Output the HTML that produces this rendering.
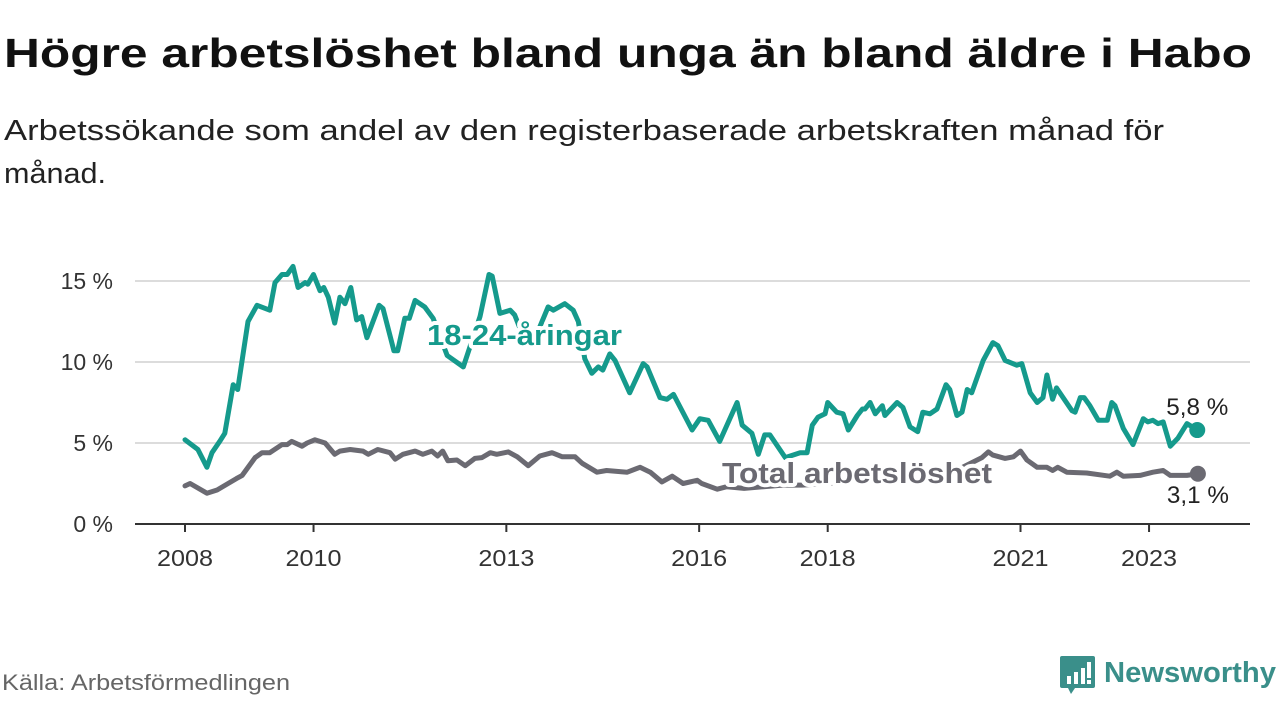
<!DOCTYPE html>
<html><head><meta charset="utf-8"><style>
html,body{margin:0;padding:0;background:#fff;width:1280px;height:720px;overflow:hidden}
svg{display:block;font-family:"Liberation Sans",sans-serif}
</style></head><body>
<svg id="chart" width="1280" height="720" viewBox="0 0 1280 720">
<text x="4" y="67" font-size="41" font-weight="bold" fill="#111" textLength="1248" lengthAdjust="spacingAndGlyphs">Högre arbetslöshet bland unga än bland äldre i Habo</text>
<text font-size="29" fill="#222"><tspan x="4" y="140" textLength="1160" lengthAdjust="spacingAndGlyphs">Arbetssökande som andel av den registerbaserade arbetskraften månad för</tspan><tspan x="4" y="183" textLength="102" lengthAdjust="spacingAndGlyphs">månad.</tspan></text>
<g id="grid"></g>
<g id="yaxis"></g>
<g id="xaxis"></g>
<g id="series"></g>
<text x="2" y="690" font-size="22" fill="#666" textLength="288" lengthAdjust="spacingAndGlyphs">Källa: Arbetsförmedlingen</text>
<g>
<path d="M1062 656 h31 a2 2 0 0 1 2 2 v28 a2 2 0 0 1 -2 2 h-18 l-4 6 l-3 -6 h-6 a2 2 0 0 1 -2 -2 v-28 a2 2 0 0 1 2 -2z" fill="#3a8f8a"/>
<rect x="1067" y="676" width="4" height="8" fill="#fff"/><rect x="1074" y="672" width="4" height="12" fill="#fff"/><rect x="1081" y="668" width="4" height="16" fill="#fff"/><rect x="1087" y="662" width="4" height="16" fill="#fff"/><rect x="1087" y="680" width="4" height="4" fill="#fff"/>
<text x="1104" y="682" font-size="29" font-weight="bold" fill="#3a8f8a" textLength="172" lengthAdjust="spacingAndGlyphs">Newsworthy</text>
</g>
</svg>
<script>
const yTicks=[0,5,10,15];
const yTickLabels=["0 %","5 %","10 %","15 %"];
const xTicks=[2008,2010,2013,2016,2018,2021,2023];
const xTickLabels=["2008","2010","2013","2016","2018","2021","2023"];
const youthDates=[2008.0,2008.2,2008.34,2008.42,2008.54,2008.62,2008.75,2008.82,2008.98,2009.12,2009.32,2009.4,2009.51,2009.59,2009.68,2009.76,2009.87,2009.91,2010.0,2010.1,2010.16,2010.23,2010.33,2010.41,2010.49,2010.58,2010.67,2010.75,2010.83,2011.02,2011.08,2011.25,2011.31,2011.42,2011.49,2011.58,2011.73,2011.86,2012.08,2012.33,2012.59,2012.73,2012.78,2012.9,2013.06,2013.13,2013.3,2013.45,2013.65,2013.73,2013.91,2014.04,2014.12,2014.22,2014.33,2014.43,2014.5,2014.61,2014.69,2014.92,2015.13,2015.19,2015.39,2015.5,2015.6,2015.89,2016.01,2016.14,2016.32,2016.59,2016.67,2016.82,2016.92,2017.02,2017.1,2017.34,2017.57,2017.68,2017.76,2017.85,2017.96,2018.0,2018.14,2018.24,2018.32,2018.46,2018.54,2018.58,2018.66,2018.74,2018.85,2018.89,2019.08,2019.17,2019.28,2019.4,2019.48,2019.59,2019.7,2019.84,2019.9,2020.01,2020.09,2020.17,2020.24,2020.42,2020.57,2020.65,2020.76,2020.94,2021.02,2021.15,2021.26,2021.35,2021.41,2021.5,2021.56,2021.8,2021.85,2021.93,2021.99,2022.08,2022.21,2022.35,2022.42,2022.47,2022.6,2022.75,2022.91,2022.98,2023.06,2023.14,2023.22,2023.33,2023.45,2023.59,2023.75];
const youthValues=[5.2,4.6,3.5,4.4,5.1,5.6,8.6,8.3,12.5,13.5,13.2,14.9,15.4,15.4,15.9,14.6,14.9,14.8,15.4,14.4,14.6,14.0,12.4,14.0,13.6,14.6,12.6,12.8,11.5,13.5,13.3,10.7,10.7,12.7,12.7,13.8,13.4,12.7,10.4,9.7,12.8,15.4,15.3,13.0,13.2,12.9,11.2,11.5,13.4,13.2,13.6,13.2,12.5,10.2,9.3,9.7,9.5,10.5,10.1,8.1,9.9,9.7,7.8,7.7,8.0,5.8,6.5,6.4,5.1,7.5,6.1,5.6,4.3,5.5,5.5,4.1,4.4,4.4,6.1,6.6,6.8,7.5,6.9,6.8,5.8,6.7,7.1,7.1,7.5,6.8,7.3,6.7,7.5,7.2,6.0,5.7,6.9,6.8,7.1,8.6,8.3,6.7,6.9,8.3,8.1,10.1,11.2,11.0,10.1,9.8,9.9,8.1,7.5,7.8,9.2,7.7,8.4,7.0,6.9,7.8,7.8,7.3,6.4,6.4,7.5,7.3,5.9,4.9,6.5,6.3,6.4,6.2,6.3,4.8,5.3,6.2,5.8];
const totalDates=[2008.0,2008.08,2008.34,2008.5,2008.67,2008.8,2008.89,2009.09,2009.2,2009.32,2009.51,2009.59,2009.66,2009.82,2009.9,2010.02,2010.18,2010.33,2010.41,2010.57,2010.77,2010.85,2011.0,2011.19,2011.27,2011.39,2011.58,2011.7,2011.84,2011.93,2012.01,2012.09,2012.23,2012.36,2012.51,2012.62,2012.75,2012.85,2013.03,2013.17,2013.34,2013.52,2013.71,2013.87,2014.07,2014.18,2014.41,2014.56,2014.88,2015.08,2015.24,2015.42,2015.58,2015.75,2015.97,2016.04,2016.28,2016.43,2016.7,2017.0,2017.3,2017.6,2018.0,2018.5,2019.0,2019.5,2020.0,2020.4,2020.5,2020.57,2020.76,2020.89,2021.0,2021.1,2021.26,2021.41,2021.5,2021.58,2021.72,2022.03,2022.39,2022.5,2022.6,2022.86,2023.06,2023.22,2023.33,2023.48,2023.59,2023.76];
const totalValues=[2.35,2.5,1.9,2.1,2.5,2.8,3.0,4.1,4.4,4.4,4.9,4.9,5.1,4.8,5.0,5.2,5.0,4.3,4.5,4.6,4.5,4.3,4.6,4.4,4.0,4.3,4.5,4.3,4.5,4.2,4.5,3.9,3.95,3.6,4.05,4.1,4.4,4.3,4.45,4.15,3.6,4.2,4.4,4.15,4.15,3.75,3.2,3.3,3.2,3.5,3.2,2.6,2.95,2.5,2.7,2.5,2.15,2.3,2.2,2.3,2.4,2.4,2.5,2.7,2.8,3.0,3.3,4.1,4.45,4.25,4.05,4.15,4.5,3.95,3.5,3.5,3.3,3.5,3.2,3.15,2.95,3.2,2.95,3.0,3.2,3.3,3.0,3.0,3.0,3.1];
const NS='http://www.w3.org/2000/svg';
const X0=135,X1=1250;
function xs(t){return 185+(t-2008)*64.27;}
function ys(v){return 524-v*16.2;}
function mk(tag,attrs,parent){const e=document.createElementNS(NS,tag);for(const k in attrs)e.setAttribute(k,attrs[k]);parent.appendChild(e);return e;}
const grid=document.getElementById('grid'),ya=document.getElementById('yaxis'),xa=document.getElementById('xaxis'),sr=document.getElementById('series');
yTicks.forEach((v,i)=>{
 if(v>0){const g=mk('line',{x1:X0,x2:X1,y1:ys(v),y2:ys(v),stroke:'#dcdcdc','stroke-width':2},grid);
 
 }
 const t=mk('text',{x:113,y:ys(v)+8,'text-anchor':'end','font-size':23,fill:'#333'},ya);t.textContent=yTickLabels[i];
 
 
});
const ax=mk('line',{x1:X0,x2:X1,y1:524,y2:524,stroke:'#333','stroke-width':2},xa);


xTicks.forEach((v,i)=>{
 const tk=mk('line',{x1:xs(v),x2:xs(v),y1:524,y2:532,stroke:'#333','stroke-width':2},xa);
 
 
 const t=mk('text',{x:xs(v),y:566,'text-anchor':'middle','font-size':23,fill:'#333',textLength:56,lengthAdjust:'spacingAndGlyphs'},xa);t.textContent=xTickLabels[i];
 
 
});
function line(d,v,color,name){
 const p=mk('path',{d:d.map((t,i)=>(i?'L':'M')+xs(t).toFixed(1)+' '+ys(v[i]).toFixed(1)).join(''),fill:'none',stroke:color,'stroke-width':5,'stroke-linejoin':'round','stroke-linecap':'round'},sr);
 
 
 const n=d.length-1;
 const c=mk('circle',{cx:xs(d[n]),cy:ys(v[n]),r:8,fill:color},sr);
 
 
}
line(totalDates,totalValues,'#6b6a72','total-line');
line(youthDates,youthValues,'#159a8c','youth-line');
function lab(x,y,txt,color,name,size,bold,len){
 const t=mk('text',{x:x,y:y,'font-size':size,'font-weight':bold?'bold':'normal',fill:color,stroke:'#fff','stroke-width':bold?8:6,'paint-order':'stroke','stroke-linejoin':'round','text-anchor':bold?'start':'middle'},sr);
 t.textContent=txt;
 if(len){t.setAttribute('textLength',len);t.setAttribute('lengthAdjust','spacingAndGlyphs');}
 
 
 return t;
}
lab(427,345,'18-24-åringar','#159a8c','youth-series-label',29,true,195);
lab(722,483,'Total arbetslöshet','#6b6a72','total-series-label',29,true,270);
lab(xs(youthDates[youthDates.length-1]),415,youthValues[youthValues.length-1].toFixed(1).replace('.',',')+' %','#222','youth-end-value',24,false,62);
lab(xs(totalDates[totalDates.length-1]),503,totalValues[totalValues.length-1].toFixed(1).replace('.',',')+' %','#222','total-end-value',24,false,62);
</script>
</body></html>
